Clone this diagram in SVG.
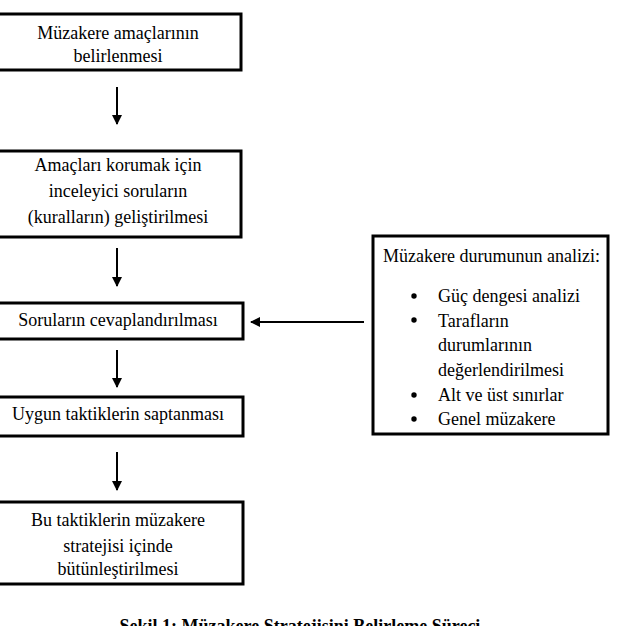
<svg xmlns="http://www.w3.org/2000/svg" width="621" height="626" viewBox="0 0 621 626">
<style>
.box{fill:#fff;stroke:#000;stroke-width:3}
.t{font-family:'Liberation Serif',Tinos,'Times New Roman',serif;font-size:18px;fill:#000}
.c{text-anchor:middle}
.conn{stroke:#000;stroke-width:2;fill:none}
.cap{font-family:'Liberation Serif',Tinos,'Times New Roman',serif;font-size:18px;font-weight:bold;fill:#000;text-anchor:middle}
</style>
<defs>
<marker id="ah" viewBox="0 0 10 10" refX="9" refY="5" markerWidth="5" markerHeight="5" orient="auto" markerUnits="strokeWidth">
<path d="M0,0 L10,5 L0,10 z" fill="#000"/>
</marker>
</defs>
<rect width="621" height="626" fill="#fff"/>
<g id="n1"><rect class="box" x="-5" y="14" width="246" height="56"/>
<text class="t c" x="118" y="39">Müzakere amaçlarının</text>
<text class="t c" x="118" y="62">belirlenmesi</text></g>
<g id="n2"><rect class="box" x="-5" y="151" width="246" height="86"/>
<text class="t c" x="118" y="171">Amaçları korumak için</text>
<text class="t c" x="118" y="197">inceleyici soruların</text>
<text class="t c" x="118" y="223">(kuralların) geliştirilmesi</text></g>
<g id="n3"><rect class="box" x="-5" y="303" width="248" height="36"/>
<text class="t c" x="118" y="326">Soruların cevaplandırılması</text></g>
<g id="n4"><rect class="box" x="-5" y="397" width="248" height="39"/>
<text class="t c" x="118" y="420">Uygun taktiklerin saptanması</text></g>
<g id="n5"><rect class="box" x="-5" y="502" width="248" height="82"/>
<text class="t c" x="118" y="526">Bu taktiklerin müzakere</text>
<text class="t c" x="118" y="552">stratejisi içinde</text>
<text class="t c" x="118" y="575">bütünleştirilmesi</text></g>
<g id="n6"><rect class="box" x="373" y="236" width="235" height="198"/>
<text class="t" x="383" y="262">Müzakere durumunun analizi:</text>
<circle cx="414" cy="296" r="2.7"/>
<circle cx="414" cy="320" r="2.7"/>
<circle cx="414" cy="395" r="2.7"/>
<circle cx="414" cy="419" r="2.7"/>
<text class="t" x="438" y="302">Güç dengesi analizi</text>
<text class="t" x="438" y="327">Tarafların</text>
<text class="t" x="438" y="351">durumlarının</text>
<text class="t" x="438" y="376">değerlendirilmesi</text>
<text class="t" x="438" y="401">Alt ve üst sınırlar</text>
<text class="t" x="438" y="425">Genel müzakere</text></g>
<g id="connectors">
<line class="conn" x1="117" y1="87" x2="117" y2="124" marker-end="url(#ah)"/>
<line class="conn" x1="117" y1="248" x2="117" y2="286" marker-end="url(#ah)"/>
<line class="conn" x1="117" y1="350" x2="117" y2="387" marker-end="url(#ah)"/>
<line class="conn" x1="117" y1="452" x2="117" y2="490" marker-end="url(#ah)"/>
<line class="conn" x1="364" y1="322" x2="251" y2="322" marker-end="url(#ah)"/>
</g>
<text class="cap" x="300" y="632">Şekil 1: Müzakere Stratejisini Belirleme Süreci</text>
</svg>
